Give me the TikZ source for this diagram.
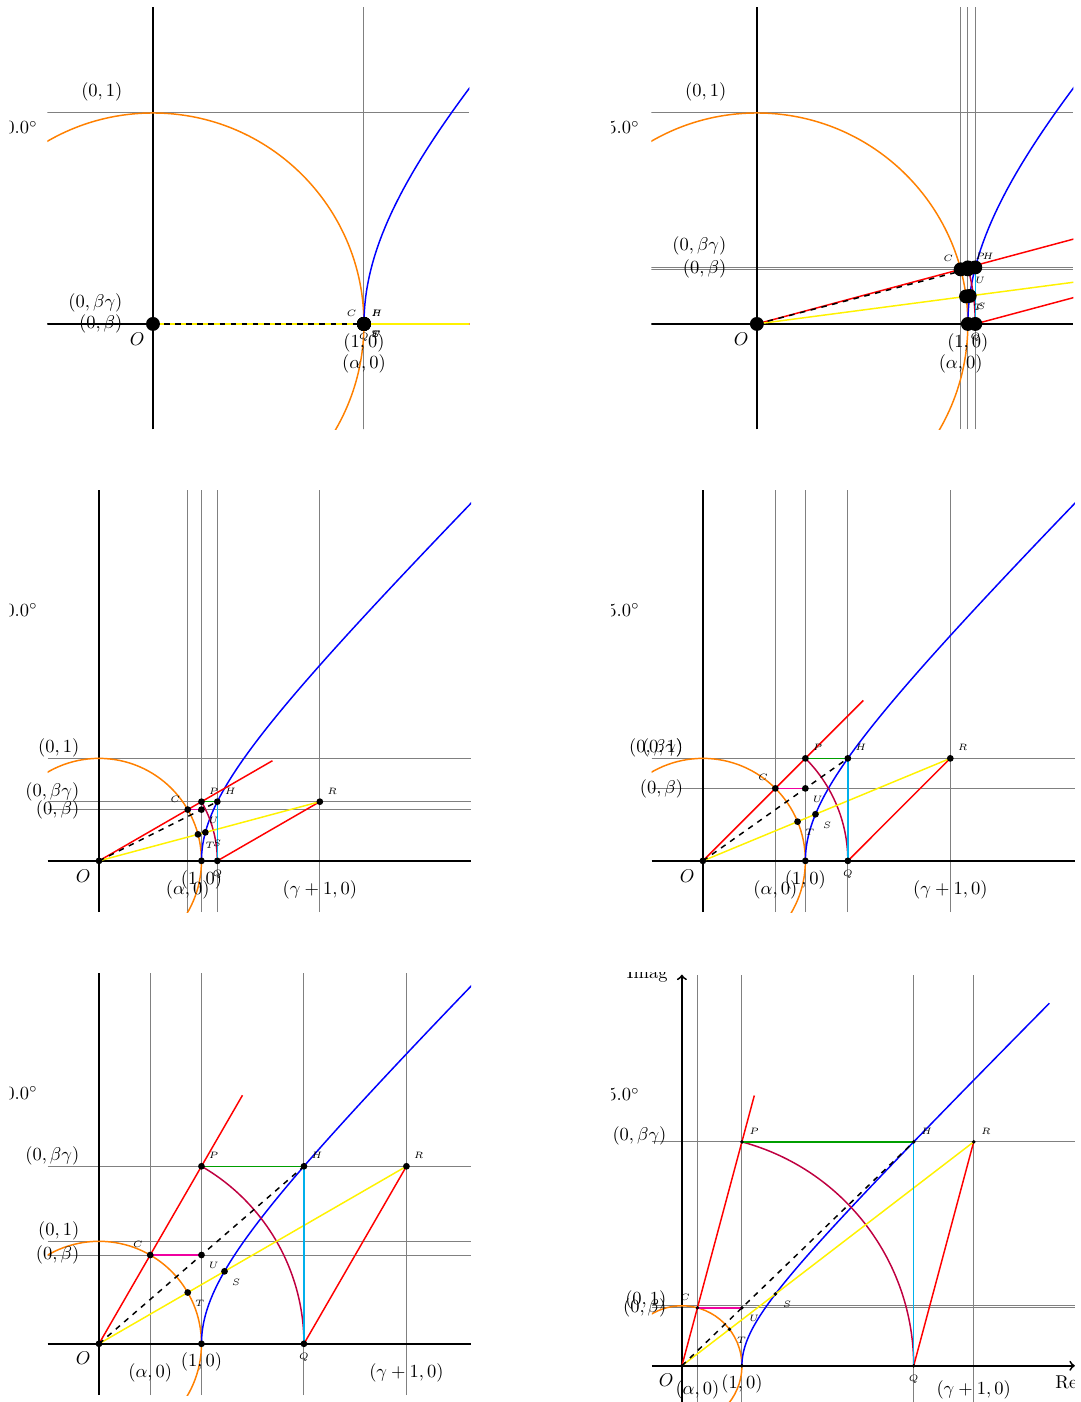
\documentclass[tikz,border=0pt]{standalone}
\usetikzlibrary{positioning}
\definecolor{hqcyan}{RGB}{0,175,235}
\definecolor{cupink}{RGB}{240,0,160}
\begin{document}
\begin{tikzpicture}[
  gridline/.style={gray,line width=0.55pt},
  axisline/.style={black,line width=1pt},
  curve/.style={line width=0.8pt},
  ylabel/.style={left=1.6pt},
  xlabel/.style={below=1.5pt},
  ptlabel/.style={font=\tiny,inner sep=1pt},
]
\useasboundingbox (0,0) rectangle (20.52,-26.638);
\foreach \a/\s/\ox/\oy/\xM/\yM/\ym/\tp/\cl/\ar in {0/211/153/324/1.5/1.5/-0.5/1.5/10/-,
15/211/757/324/1.5/1.5/-0.5/1.5/612/-,
30/102.5/99/861/3.63/3.62/-0.5/3.62/10/-,
45/102.5/703/861/3.63/3.62/-0.5/3.62/612/-,
60/102.5/99/1344/3.63/3.62/-0.5/3.62/10/-,
75/60/682/1366/6.55/6.52/-0.6/6.56/612/->}
{
  \pgfmathsetmacro\al{cos(\a)}
  \pgfmathsetmacro\be{sin(\a)}
  \pgfmathsetmacro\ga{1/cos(\a)}
  \pgfmathsetmacro\bg{tan(\a)}
  \pgfmathsetmacro\hf{tan(\a/2)}
  \pgfmathsetmacro\sx{1/sqrt(1-\hf*\hf)}
  \pgfmathsetmacro\rl{\ga+0.8}
  \pgfmathsetmacro\un{\s*0.019}
  \pgfmathsetmacro\tlx{(\cl-\ox)/\s}
  \pgfmathsetmacro\dgx{(\cl+28-\ox)/\s}
  \pgfmathsetmacro\dgy{\yM-120/\s}
  \begin{scope}[shift={(\ox*0.019cm,-\oy*0.019cm)},x=\un cm,y=\un cm]
    \coordinate (O) at (0,0);
    \coordinate (E) at (1,0);
    \coordinate (C) at (\al,\be);
    \coordinate (U) at (1,\be);
    \coordinate (P) at (1,\bg);
    \coordinate (H) at (\ga,\bg);
    \coordinate (R) at (\ga+1,\bg);
    \coordinate (Q) at (\ga,0);
    \coordinate (T) at (\a/2:1);
    \coordinate (S) at (\sx,\sx*\hf);
    \coordinate (K) at (\a:\rl);
    \begin{scope}
      \clip (-0.5,\ym) rectangle (\xM,\yM);
      \foreach \yy in {1,\be,\bg} \draw[gridline] (-0.5,\yy) -- (\xM,\yy);
      \foreach \xx in {\al,1,\ga,\ga+1} \draw[gridline] (\xx,\ym) -- (\xx,\yM);
      \draw[axisline,\ar] (-0.5,0) -- (\xM,0);
      \draw[axisline,\ar] (0,\ym) -- (0,\yM);
      \draw[curve,orange] (O) circle[radius=1];
      \draw[curve,blue] plot[domain=0:2.5,samples=80,variable=\t] ({cosh(\t)},{sinh(\t)});
      \draw[curve,red] (O) -- (K);
      \draw[curve,red] (Q) -- (R);
      \draw[curve,purple] (Q) arc[start angle=0,end angle=\a,radius=\ga];
      \draw[curve,yellow] (O) -- (R);
      \draw[curve,dashed] (O) -- (H);
      \draw[curve,green!62!black] (P) -- (H);
      \draw[curve,hqcyan] (H) -- (Q);
      \draw[curve,cupink] (C) -- (U);
      \foreach \pt in {O,C,U,P,H,R,Q,E,T,S} \fill (\pt) circle[radius=0.033];
    \end{scope}
    \begin{scope}
      \clip (\tlx,\ym) rectangle (\xM,\tp);
      \node[ylabel] (n01) at (-0.1,1.1) {$(0,1)$};
      \node[ylabel] (nbg) at (-0.1,\bg+0.1) {$(0,\beta\gamma)$};
      \node[ylabel] (nb) at (-0.1,\be) {$(0,\beta)$};
      \node[xlabel] (n10) at (E) {$(1,0)$};
      \node[xlabel] (na0) at (\al,-0.1) {$(\alpha,0)$};
      \node[xlabel] (ng0) at (\ga+1,-0.1) {$(\gamma+1,0)$};
      \node[below left=1.5pt] (nO) at (O) {$O$};
      \node[ptlabel,above left=4pt] (nC) at (C) {$C$};
      \node[ptlabel,above right=4pt] (nP) at (P) {$P$};
      \node[ptlabel,above right=4pt] (nH) at (H) {$H$};
      \node[ptlabel,above right=4pt] (nR) at (R) {$R$};
      \node[ptlabel,below=4pt] (nQ) at (Q) {$Q$};
      \node[ptlabel,below right=4pt] (nU) at (U) {$U$};
      \node[ptlabel,below right=4pt] (nS) at (S) {$S$};
      \node[ptlabel,below right=4pt] (nT) at (T) {$T$};
      \node[anchor=east,inner sep=0pt] (ndeg) at (\dgx,\dgy) {$\a.0^\circ$};
      \ifnum\a=75
        \node[anchor=base east,inner sep=0pt] (nim) at (-0.233,6.45) {Imag};
        \node[anchor=base west,inner sep=0pt] (nre) at (6.22,-0.383) {Re};
      \fi
    \end{scope}
  \end{scope}
}
\end{tikzpicture}
\end{document}
